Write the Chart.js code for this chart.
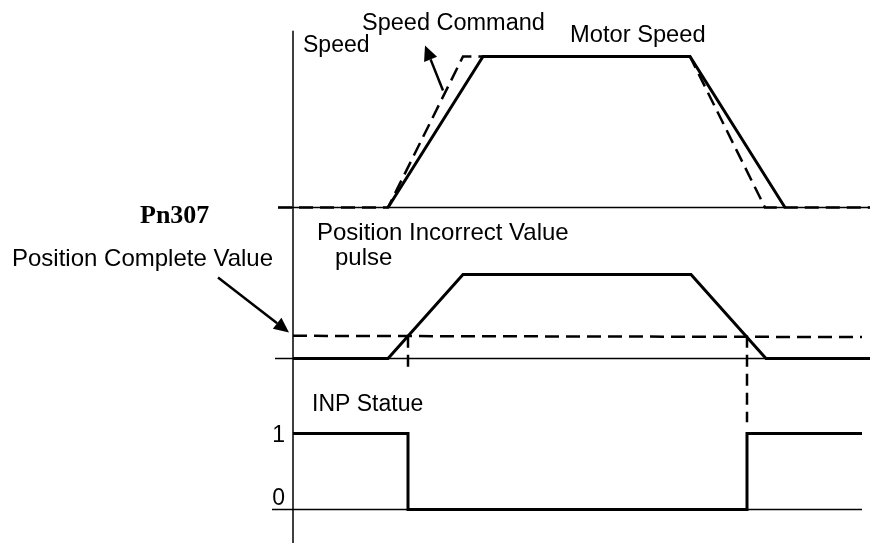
<!DOCTYPE html>
<html>
<head>
<meta charset="utf-8">
<script src="https://cdn.jsdelivr.net/npm/chart.js@4/dist/chart.umd.min.js"></script>
<style>
  html, body { margin: 0; padding: 0; background: #fff; }
  #wrap { width: 870px; height: 543px; }
</style>
</head>
<body>
<div id="wrap"><canvas id="timing"></canvas></div>
<script>
// 위치결정 완료 타이밍 차트 (Pn307)
// 시간축: 세로축 위치를 t=0 으로 둔 상대 시간
const speedCmdTime  = [-15, 95, 170, 397, 472, 577];
const speedCmdValue = [0, 0, 1, 1, 0, 0];
const motorTime     = [95, 190, 397, 492];
const motorValue    = [0, 1, 1, 0];
const errorTime     = [0, 95, 170, 398, 473, 577];
const errorPulse    = [0, 0, 100, 100, 0, 0];
const completeTime  = [0, 569];
const completeValue = [27, 25.5];   // Pn307 위치결정 완료폭
const inpTime       = [0, 115, 115, 454, 454, 569];
const inpValue      = [1, 1, 0, 0, 1, 1];
const inpTicks      = ['1', '0'];
const labels = ['Speed', 'Speed Command', 'Motor Speed', 'Pn307',
  'Position Incorrect Value', 'pulse', 'Position Complete Value', 'INP Statue'];

const W = 870, H = 543;
// 각 패널 레벨 -> 화면 위치로 맞추기 위한 축 범위
function axisRange(v0, px0, v1, px1) {
  const per = (px0 - px1) / (v1 - v0);
  return { min: v0 - (H - px0) / per, max: v0 + px0 / per };
}
const spdAxis = axisRange(0, 207.5, 1, 56.5);
const posAxis = axisRange(0, 358.5, 100, 274.5);
const inpAxis = axisRange(0, 509.5, 1, 433.5);

const pts = (xs, ys) => xs.map((x, i) => ({ x: x, y: ys[i] }));

const solid = (data, yAxisID, width) => ({
  data: data, yAxisID: yAxisID, borderColor: '#000', borderWidth: width,
  pointRadius: 0, tension: 0, fill: false, borderCapStyle: 'butt'
});
const dashed = (data, yAxisID, width, dash) => Object.assign(solid(data, yAxisID, width), { borderDash: dash });

const datasets = [
  solid(pts(motorTime, motorValue), 'ySpd', 3),
  dashed(pts(speedCmdTime, speedCmdValue), 'ySpd', 2.5, [14, 7]),
  solid(pts(errorTime, errorPulse), 'yPos', 3),
  dashed(pts(completeTime, completeValue), 'yPos', 2.5, [14, 7]),
  // 완료폭 교차점에서 내려오는 점선
  dashed(pts([inpTime[1], inpTime[1]], [completeValue[0], -17]), 'yPos', 2.5, [12, 7]),
  dashed(pts([inpTime[3], inpTime[3]], [completeValue[0], -76]), 'yPos', 2.5, [12, 7]),
  solid(pts(inpTime, inpValue), 'yInp', 3),
  // 기준선 / 축
  solid(pts([-15, 577], [0, 0]), 'ySpd', 1.5),
  solid(pts([-18, 577], [0, 0]), 'yPos', 1.5),
  solid(pts([-21, 569], [0, 0]), 'yInp', 1.5),
  solid(pts([0, 0], [1.17, spdAxis.min - 1]), 'ySpd', 1.5)
];

function arrow(ctx, x1, y1, x2, y2) {
  const a = Math.atan2(y2 - y1, x2 - x1);
  const len = 15, half = 7;
  const bx = x2 - len * Math.cos(a), by = y2 - len * Math.sin(a);
  ctx.beginPath();
  ctx.moveTo(x1, y1);
  ctx.lineTo(bx, by);
  ctx.lineWidth = 2.5;
  ctx.stroke();
  ctx.beginPath();
  ctx.moveTo(x2, y2);
  ctx.lineTo(bx + half * Math.sin(a), by - half * Math.cos(a));
  ctx.lineTo(bx - half * Math.sin(a), by + half * Math.cos(a));
  ctx.closePath();
  ctx.fill();
}

const notes = {
  id: 'notes',
  afterDatasetsDraw(chart) {
    const ctx = chart.ctx;
    const x = chart.scales.x, s = chart.scales.ySpd, p = chart.scales.yPos, q = chart.scales.yInp;
    ctx.save();
    ctx.fillStyle = '#000';
    ctx.strokeStyle = '#000';
    // 화살표
    arrow(ctx, x.getPixelForValue(150), s.getPixelForValue(0.775),
               x.getPixelForValue(132), s.getPixelForValue(1.073));
    arrow(ctx, x.getPixelForValue(-75), p.getPixelForValue(96.4),
               x.getPixelForValue(-4), p.getPixelForValue(31));

    ctx.textBaseline = 'alphabetic';
    ctx.textAlign = 'left';
    const sans = '"Liberation Sans", Arial, sans-serif';
    // [x, baseline y, 글자크기]
    const pos = [[303, 52, 23], [362, 30, 23.5], [570, 42, 23.7], null,
                 [317, 240, 24], [335, 265, 24], [12, 266, 24], [312, 411, 23]];
    labels.forEach((t, i) => {
      if (!pos[i]) return;
      ctx.font = pos[i][2] + 'px ' + sans;
      ctx.fillText(t, pos[i][0], pos[i][1]);
    });
    ctx.font = 'bold 26px "Liberation Serif", "Times New Roman", serif';
    ctx.fillText(labels[3], 140, 223);

    // INP 레벨 라벨
    ctx.font = '23px ' + sans;
    ctx.textAlign = 'right';
    ctx.fillText(inpTicks[0], 285, q.getPixelForValue(1) + 8);
    ctx.fillText(inpTicks[1], 285, q.getPixelForValue(0) - 5);
    ctx.restore();
  }
};

new Chart(document.getElementById('timing'), {
  type: 'line',
  data: { datasets: datasets },
  options: {
    responsive: true,
    maintainAspectRatio: false,
    animation: false,
    layout: { padding: 0 },
    plugins: { legend: { display: false }, tooltip: { enabled: false } },
    scales: {
      x: { type: 'linear', display: false, min: -293, max: W - 293 },
      ySpd: { type: 'linear', display: false, min: spdAxis.min, max: spdAxis.max },
      yPos: { type: 'linear', display: false, min: posAxis.min, max: posAxis.max },
      yInp: { type: 'linear', display: false, min: inpAxis.min, max: inpAxis.max }
    }
  },
  plugins: [notes]
});
</script>
</body>
</html>
